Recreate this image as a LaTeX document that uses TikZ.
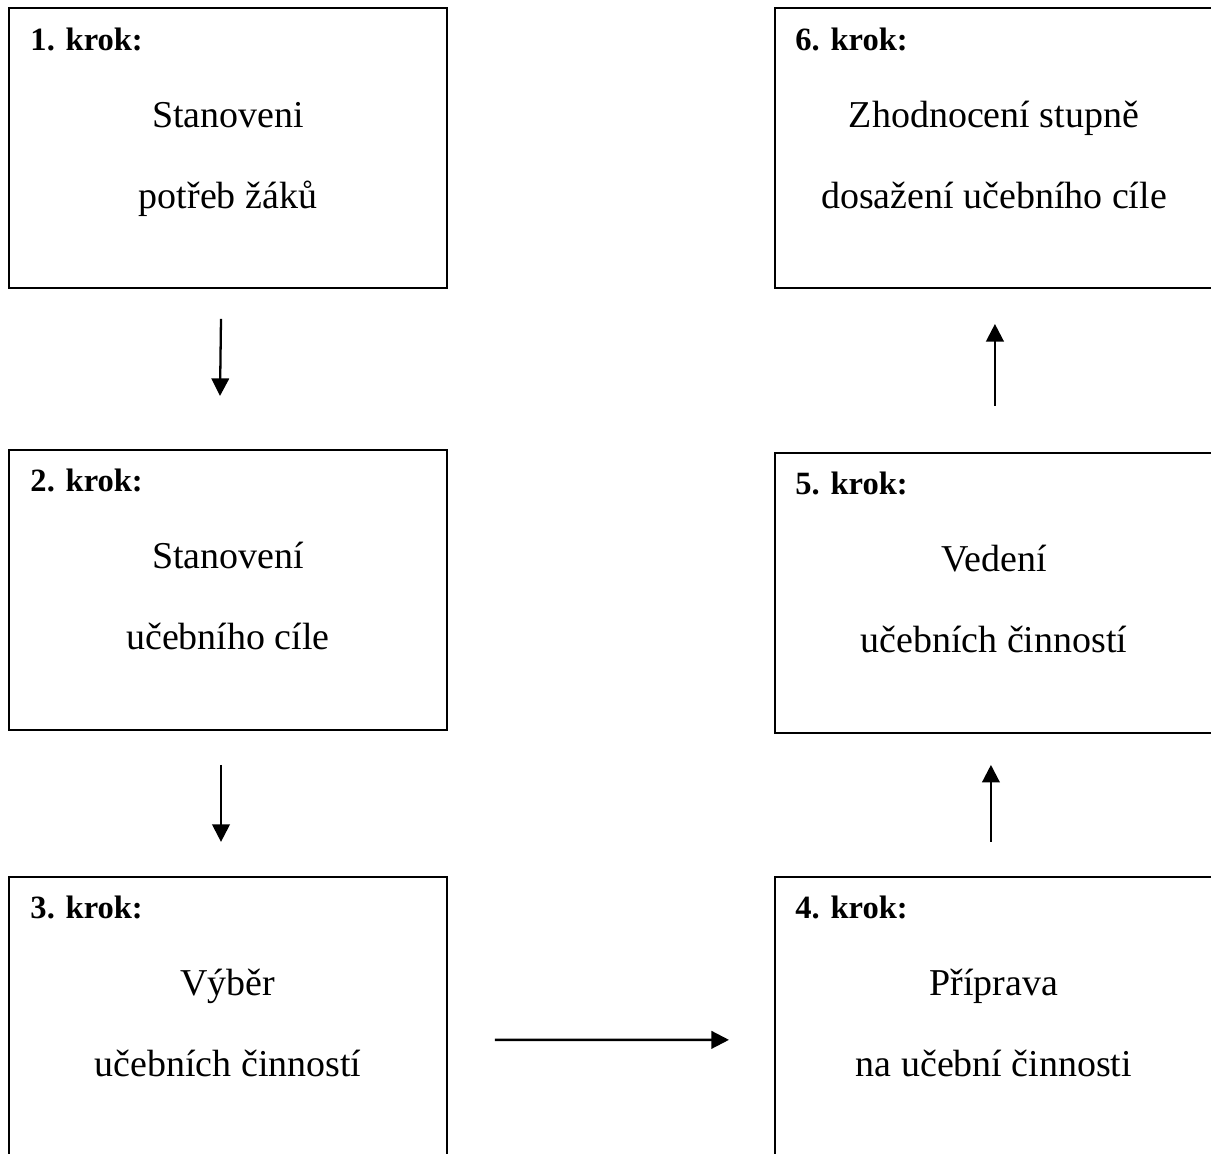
\documentclass[tikz,border=0pt]{standalone}
\usepackage{fontspec}
\setmainfont{Liberation Serif}
\usetikzlibrary{positioning,arrows.meta}

\begin{document}
\begin{tikzpicture}[>={Triangle[width=10pt,length=10pt]}, line width=1.1pt,
    stepbox/.style={draw, rectangle, minimum width=8.76cm, minimum height=5.6cm, inner sep=0pt},
    steplbl/.style={font=\fontsize{18.5}{20}\selectfont\bfseries, inner sep=0pt, anchor=base west},
    steptext/.style={font=\fontsize{21.6}{24}\selectfont, inner sep=0pt, anchor=base},
    steparrow/.style={->, line width=1.3pt}]
    \useasboundingbox (0,0) rectangle (24.22,23.06);
    \clip (0,0) rectangle (24.22,23.06);

    % ========== left column: steps 1-3 ==========
    \node[stepbox] (b1) at (4.56,20.10) {};
    \node[stepbox, below=3.2cm of b1] (b2) {};
    \node[stepbox, below=2.9cm of b2] (b3) {};

    \node[steplbl] (k1) at ([shift={(0.43,-0.86)}]b1.north west) {1. krok:};
    \node[steptext] (t1a) at ([yshift=-2.40cm]b1.north) {Stanoveni};
    \node[steptext] (t1b) at ([yshift=-4.02cm]b1.north) {potřeb žáků};

    \node[steplbl] (k2) at ([shift={(0.43,-0.86)}]b2.north west) {2. krok:};
    \node[steptext] (t2a) at ([yshift=-2.40cm]b2.north) {Stanovení};
    \node[steptext] (t2b) at ([yshift=-4.02cm]b2.north) {učebního cíle};

    \node[steplbl] (k3) at ([shift={(0.43,-0.86)}]b3.north west) {3. krok:};
    \node[steptext] (t3a) at ([yshift=-2.40cm]b3.north) {Výběr};
    \node[steptext] (t3b) at ([yshift=-4.02cm]b3.north) {učebních činností};

    % ========== right column: steps 4-6 ==========
    \node[stepbox, right=6.52cm of b1] (b6) {};
    \node[stepbox, below=3.26cm of b6] (b5) {};
    \node[stepbox, below=2.84cm of b5] (b4) {};

    \node[steplbl] (k4) at ([shift={(0.41,-0.86)}]b4.north west) {4. krok:};
    \node[steptext] (t4a) at ([yshift=-2.40cm]b4.north) {Příprava};
    \node[steptext] (t4b) at ([yshift=-4.02cm]b4.north) {na učební činnosti};

    \node[steplbl] (k5) at ([shift={(0.41,-0.86)}]b5.north west) {5. krok:};
    \node[steptext] (t5a) at ([yshift=-2.40cm]b5.north) {Vedení};
    \node[steptext] (t5b) at ([yshift=-4.02cm]b5.north) {učebních činností};

    \node[steplbl] (k6) at ([shift={(0.41,-0.86)}]b6.north west) {6. krok:};
    \node[steptext] (t6a) at ([yshift=-2.40cm]b6.north) {Zhodnocení stupně};
    \node[steptext] (t6b) at ([yshift=-4.02cm]b6.north) {dosažení učebního cíle};

    % ========== arrows ==========
    \draw[steparrow] ([shift={(-0.14,-0.60)}]b1.south) -- ([shift={(-0.16,1.06)}]b2.north);
    \draw[steparrow] ([shift={(-0.14,-0.68)}]b2.south) -- ([shift={(-0.14,0.68)}]b3.north);
    \draw[steparrow] ([shift={(0.94,-0.46)}]b3.east) -- ([shift={(-0.90,-0.46)}]b4.west);
    \draw[steparrow] ([shift={(-0.06,0.68)}]b4.north) -- ([shift={(-0.06,-0.62)}]b5.south);
    \draw[steparrow] ([shift={(0.02,0.92)}]b5.north) -- ([shift={(0.02,-0.70)}]b6.south);
\end{tikzpicture}
\end{document}
